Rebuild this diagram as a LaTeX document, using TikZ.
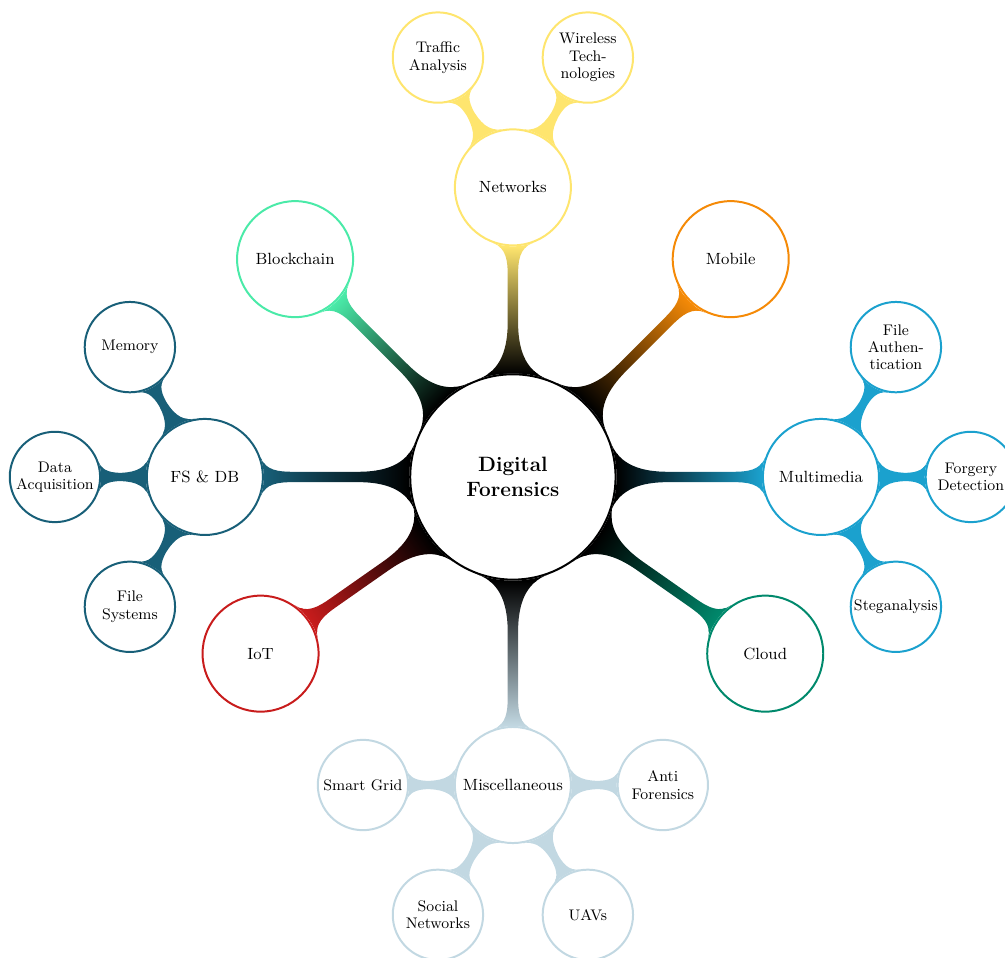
\documentclass[tikz,border=0pt]{standalone}
\usetikzlibrary{mindmap,backgrounds,calc}
\definecolor{netcol}{HTML}{FEE56E}
\definecolor{mobcol}{HTML}{F58A07}
\definecolor{mmcol}{HTML}{1BA1CE}
\definecolor{cloudcol}{HTML}{00896C}
\definecolor{misccol}{HTML}{C2D8E2}
\definecolor{iotcol}{HTML}{C81C1C}
\definecolor{fscol}{HTML}{185F78}
\definecolor{bccol}{HTML}{4AEAA8}
\begin{document}
\begin{tikzpicture}[x=1cm,y=1cm,
	every node/.style={circle,draw,fill=white,align=center,inner sep=0pt,line width=1.1pt},
	rootnode/.style={minimum size=4cm,font=\fontsize{11.5}{14}\selectfont\bfseries},
	topic/.style={minimum size=2.26cm,font=\small},
	subtopic/.style={minimum size=1.76cm,font=\fontsize{8.5}{9.6}\selectfont},
	link/.style 2 args={circle connection bar switch color=from (#1) to (#2)}]
	\def\d{6} % level 1 distance
	\def\dd{2.92} % level 2 distance
	\useasboundingbox (-9.99,-9.35) rectangle (9.585,9.29);
	% centre and main topics
	\node[rootnode] (root) at (0,0) {Digital\\Forensics};
	\node[topic,draw=netcol] (net) at (90:5.64) {Networks};
	\node[topic,draw=mobcol] (mob) at (45:\d) {Mobile};
	\node[topic,draw=mmcol] (mm) at (0:\d) {Multimedia};
	\node[topic,draw=cloudcol] (cloud) at (-35:\d) {Cloud};
	\node[topic,draw=misccol] (misc) at (-90:\d) {Miscellaneous};
	\node[topic,draw=iotcol] (iot) at (-145:\d) {IoT};
	\node[topic,draw=fscol] (fs) at (180:\d) {FS \& DB};
	\node[topic,draw=bccol] (bc) at (135:\d) {Blockchain};
	% sub topics
	\node[subtopic,draw=netcol] (traffic) at ($(net)+(120:\dd)$) {Traffic\\Analysis};
	\node[subtopic,draw=netcol] (wireless) at ($(net)+(60:\dd)$) {Wireless\\Tech-\\nologies};
	\node[subtopic,draw=mmcol] (auth) at ($(mm)+(60:\dd)$) {File\\Authen-\\tication};
	\node[subtopic,draw=mmcol] (forgery) at ($(mm)+(0:\dd)$) {Forgery\\Detection};
	\node[subtopic,draw=mmcol] (stega) at ($(mm)+(-60:\dd)$) {Steganalysis};
	\node[subtopic,draw=fscol] (memory) at ($(fs)+(120:\dd)$) {Memory};
	\node[subtopic,draw=fscol] (acq) at ($(fs)+(180:\dd)$) {Data\\Acquisition};
	\node[subtopic,draw=fscol] (filesys) at ($(fs)+(240:\dd)$) {File\\Systems};
	\node[subtopic,draw=misccol] (grid) at ($(misc)+(180:\dd)$) {Smart Grid};
	\node[subtopic,draw=misccol] (anti) at ($(misc)+(0:\dd)$) {Anti\\Forensics};
	\node[subtopic,draw=misccol] (social) at ($(misc)+(240:\dd)$) {Social\\Networks};
	\node[subtopic,draw=misccol] (uav) at ($(misc)+(300:\dd)$) {UAVs};
	% connection bars
	\begin{pgfonlayer}{background}
	\path (root) to[link={black}{netcol}] (net);
	\path (root) to[link={black}{mobcol}] (mob);
	\path (root) to[link={black}{mmcol}] (mm);
	\path (root) to[link={black}{cloudcol}] (cloud);
	\path (root) to[link={black}{misccol}] (misc);
	\path (root) to[link={black}{iotcol}] (iot);
	\path (root) to[link={black}{fscol}] (fs);
	\path (root) to[link={black}{bccol}] (bc);
	\path (net) to[link={netcol}{netcol}] (traffic);
	\path (net) to[link={netcol}{netcol}] (wireless);
	\path (mm) to[link={mmcol}{mmcol}] (auth);
	\path (mm) to[link={mmcol}{mmcol}] (forgery);
	\path (mm) to[link={mmcol}{mmcol}] (stega);
	\path (fs) to[link={fscol}{fscol}] (memory);
	\path (fs) to[link={fscol}{fscol}] (acq);
	\path (fs) to[link={fscol}{fscol}] (filesys);
	\path (misc) to[link={misccol}{misccol}] (grid);
	\path (misc) to[link={misccol}{misccol}] (anti);
	\path (misc) to[link={misccol}{misccol}] (social);
	\path (misc) to[link={misccol}{misccol}] (uav);
	\end{pgfonlayer}
\end{tikzpicture}
\end{document}
